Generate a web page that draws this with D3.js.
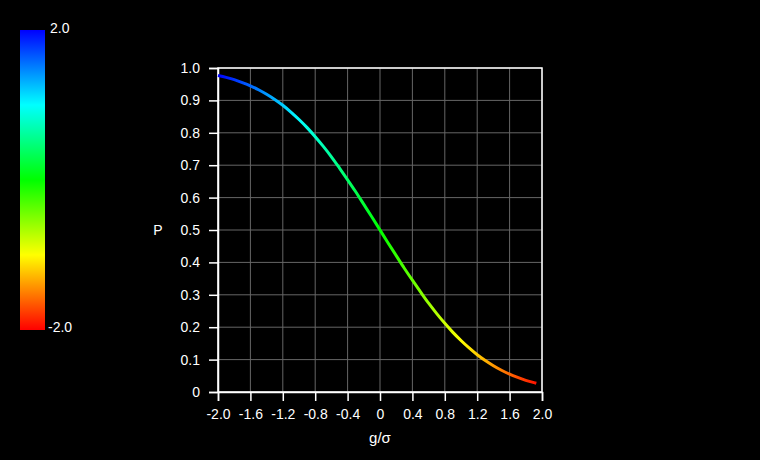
<!DOCTYPE html>
<html>
<head>
<meta charset="utf-8">
<script src="https://cdn.jsdelivr.net/npm/d3@7"></script>
<style>
  body { margin: 0; background: #000; }
  svg { display: block; }
  text { font-family: "Liberation Sans", Arial, sans-serif; fill: #fff; }
</style>
</head>
<body>
<div id="chart"></div>
<script>
// curve points (g/sigma, P)
const gValues = [-2.0, -1.9, -1.8, -1.7, -1.6, -1.5, -1.4, -1.3, -1.2, -1.1,
  -1.0, -0.9, -0.8, -0.7, -0.6, -0.5, -0.4, -0.3, -0.2, -0.1,
  0.0, 0.1, 0.2, 0.3, 0.4, 0.5, 0.6, 0.7, 0.8, 0.9,
  1.0, 1.1, 1.2, 1.3, 1.4, 1.5, 1.6, 1.7, 1.8, 1.9, 1.93];
const pValues = [0.977, 0.971, 0.964, 0.955, 0.945, 0.933, 0.919, 0.903, 0.885, 0.864,
  0.841, 0.816, 0.788, 0.758, 0.726, 0.691, 0.655, 0.618, 0.579, 0.540,
  0.500, 0.460, 0.421, 0.382, 0.345, 0.309, 0.274, 0.242, 0.212, 0.184,
  0.159, 0.136, 0.115, 0.097, 0.081, 0.067, 0.055, 0.045, 0.036, 0.029, 0.027];

const xTicks = [-2.0, -1.6, -1.2, -0.8, -0.4, 0, 0.4, 0.8, 1.2, 1.6, 2.0];
const xTickLabels = ["-2.0", "-1.6", "-1.2", "-0.8", "-0.4", "0", "0.4", "0.8", "1.2", "1.6", "2.0"];
const yTicks = [0, 0.1, 0.2, 0.3, 0.4, 0.5, 0.6, 0.7, 0.8, 0.9, 1.0];
const yTickLabels = ["0", "0.1", "0.2", "0.3", "0.4", "0.5", "0.6", "0.7", "0.8", "0.9", "1.0"];

// colour bar: value -> colour
const colorValues = [-2, -1, 0, 1, 2];
const colorStops = ["#ff0000", "#ffff00", "#00ff00", "#00ffff", "#0000ff"];
const colorLabels = ["-2.0", "2.0"];

const W = 760, H = 460;
const margin = {top: 68, left: 218, width: 324, height: 324};

const svg = d3.select("#chart")
  .append("svg")
    .attr("width", W)
    .attr("height", H);

svg.append("rect").attr("width", W).attr("height", H).attr("fill", "#000");

const color = d3.scaleLinear().domain(colorValues).range(colorStops);

// colour bar
const barX = 20, barY = 30, barW = 25, barH = 300;
const defs = svg.append("defs");
const barGrad = defs.append("linearGradient")
  .attr("id", "barGrad")
  .attr("x1", 0).attr("y1", 1).attr("x2", 0).attr("y2", 0);
colorValues.forEach(function(v, i) {
  barGrad.append("stop")
    .attr("offset", (v + 2) / 4)
    .attr("stop-color", colorStops[i]);
});
svg.append("rect")
  .attr("x", barX).attr("y", barY)
  .attr("width", barW).attr("height", barH)
  .attr("fill", "url(#barGrad)");
svg.append("text")
  .attr("x", barX + barW + 5).attr("y", barY + 3)
  .attr("font-size", 14)
  .text(colorLabels[1]);
svg.append("text")
  .attr("x", barX + barW + 3).attr("y", barY + barH - 3)
  .attr("dy", "0.35em")
  .attr("font-size", 14)
  .text(colorLabels[0]);

// plot
const g = svg.append("g")
  .attr("transform", "translate(" + margin.left + "," + margin.top + ")");

const x = d3.scaleLinear().domain([-2, 2]).range([0, margin.width]);
const y = d3.scaleLinear().domain([0, 1]).range([margin.height, 0]);

// grid
g.append("g")
  .attr("class", "grid")
  .selectAll("line.v")
  .data(xTicks)
  .enter().append("line")
    .attr("x1", d => x(d)).attr("x2", d => x(d))
    .attr("y1", 0).attr("y2", margin.height)
    .attr("stroke", "#666").attr("stroke-width", 1);
g.append("g")
  .attr("class", "grid")
  .selectAll("line.h")
  .data(yTicks)
  .enter().append("line")
    .attr("y1", d => y(d)).attr("y2", d => y(d))
    .attr("x1", 0).attr("x2", margin.width)
    .attr("stroke", "#666").attr("stroke-width", 1);

// frame
g.append("rect")
  .attr("width", margin.width).attr("height", margin.height)
  .attr("fill", "none").attr("stroke", "#fff").attr("stroke-width", 1.5);

// axes
const xAxis = g.append("g")
  .attr("transform", "translate(0," + margin.height + ")")
  .call(d3.axisBottom(x).tickValues(xTicks)
    .tickFormat((d, i) => xTickLabels[i]).tickSize(9).tickPadding(8));
const yAxis = g.append("g")
  .call(d3.axisLeft(y).tickValues(yTicks)
    .tickFormat((d, i) => yTickLabels[i]).tickSize(9).tickPadding(9));

[xAxis, yAxis].forEach(function(a) {
  a.select(".domain").attr("stroke", "#fff").attr("stroke-width", 1.5);
  a.selectAll(".tick line").attr("stroke", "#fff").attr("stroke-width", 1.5);
  a.selectAll(".tick text")
    .attr("fill", "#fff")
    .attr("font-size", 14)
    .attr("font-family", "Liberation Sans, Arial, sans-serif");
});

// axis titles
svg.append("text")
  .attr("x", margin.left + margin.width / 2)
  .attr("y", 443)
  .attr("text-anchor", "middle")
  .attr("font-size", 15)
  .text("g/σ");
svg.append("text")
  .attr("x", 158)
  .attr("y", margin.top + y(0.5))
  .attr("dy", "0.35em")
  .attr("text-anchor", "middle")
  .attr("font-size", 14)
  .text("P");

// curve coloured by -g/sigma
const curveGrad = defs.append("linearGradient")
  .attr("id", "curveGrad")
  .attr("gradientUnits", "userSpaceOnUse")
  .attr("x1", x(-2)).attr("x2", x(2))
  .attr("y1", 0).attr("y2", 0);
colorValues.slice().reverse().forEach(function(v, i) {
  curveGrad.append("stop")
    .attr("offset", i / (colorValues.length - 1))
    .attr("stop-color", color(v));
});

const points = gValues.map((d, i) => [d, pValues[i]]);
const line = d3.line()
  .x(d => x(d[0]))
  .y(d => y(d[1]))
  .curve(d3.curveMonotoneX);

g.append("path")
  .datum(points)
  .attr("d", line)
  .attr("fill", "none")
  .attr("stroke", "url(#curveGrad)")
  .attr("stroke-width", 3);
</script>
</body>
</html>
